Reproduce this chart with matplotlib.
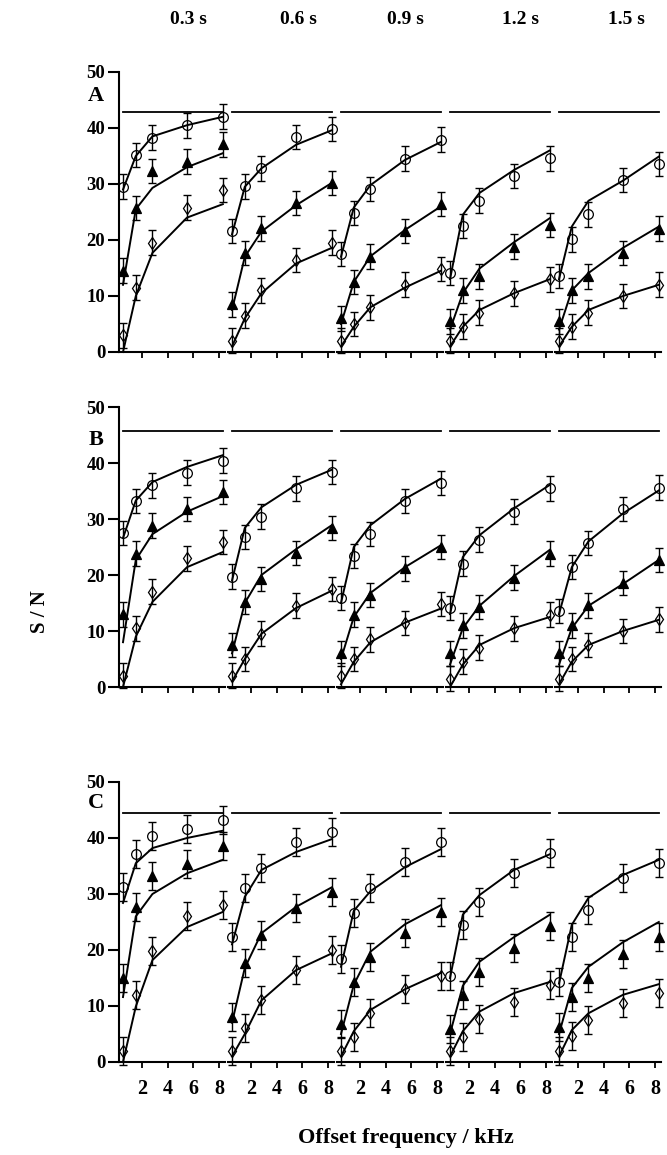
import matplotlib
matplotlib.use("Agg")
import matplotlib.pyplot as plt

plt.rcParams['font.family'] = ['Liberation Serif', 'DejaVu Serif']
plt.rcParams['font.weight'] = 'bold'

# ---------------- data ----------------
X = [0.5, 1.5, 2.8, 5.5, 8.3]            # offset frequency / kHz
TIMES = ["0.3 s", "0.6 s", "0.9 s", "1.2 s", "1.5 s"]
ROWS = ["A", "B", "C"]
REF_LINE = [42.9, 45.7, 44.5]            # horizontal reference level per row
ERR = [2.2, 2.2, 2.5]                    # error bar half-width per row
XTICKS = [2, 4, 6, 8]
YTICKS = [0, 10, 20, 30, 40, 50]

# Row A
A_CIRC = [[29.5, 35.2, 38.3, 40.5, 42.0], [21.6, 29.6, 32.8, 38.4, 39.8], [17.5, 24.8, 29.1, 34.5, 37.9],
          [14.1, 22.5, 27.0, 31.4, 34.6], [13.6, 20.1, 24.6, 30.7, 33.6]]
A_CIRC_FIT = [[29.0, 35.0, 38.5, 40.5, 42.0], [21.0, 29.5, 32.8, 37.0, 39.6], [17.0, 25.8, 29.8, 34.3, 37.5],
              [13.0, 24.5, 28.4, 32.5, 36.0], [13.0, 22.4, 27.0, 30.6, 34.9]]
A_TRI = [[14.5, 25.7, 32.3, 34.0, 37.1], [8.5, 17.7, 22.1, 26.6, 30.2], [6.0, 12.5, 17.0, 21.6, 26.4],
         [5.5, 11.0, 13.5, 18.8, 22.7], [5.5, 11.0, 13.5, 17.7, 22.0]]
A_TRI_FIT = [[12.0, 25.5, 29.3, 33.0, 35.5], [7.5, 17.0, 21.5, 26.2, 30.2], [5.0, 12.5, 17.1, 21.8, 26.0],
             [4.0, 10.5, 14.9, 19.6, 23.9], [4.0, 11.0, 14.1, 18.6, 22.4]]
A_DIA = [[3.0, 11.5, 19.5, 25.8, 28.9], [2.0, 6.5, 11.0, 16.4, 19.5], [2.0, 5.0, 8.0, 12.0, 14.8],
         [2.0, 4.5, 7.0, 10.5, 13.0], [2.0, 4.5, 7.0, 10.0, 12.0]]
A_DIA_FIT = [[0.0, 10.0, 17.7, 24.0, 26.4], [1.0, 6.0, 10.5, 15.8, 18.6], [1.0, 4.5, 8.0, 11.5, 14.5],
             [1.0, 4.5, 7.5, 10.5, 13.0], [1.0, 4.5, 7.5, 10.0, 12.0]]

# Row B
B_CIRC = [[27.5, 33.2, 36.0, 38.3, 40.4], [19.7, 26.8, 30.4, 35.5, 38.4], [15.9, 23.4, 27.3, 33.2, 36.4],
          [14.1, 22.0, 26.3, 31.3, 35.5], [13.6, 21.4, 25.7, 31.8, 35.6]]
B_CIRC_FIT = [[26.6, 33.3, 36.6, 39.3, 41.4], [19.0, 28.4, 32.1, 36.1, 38.8], [15.0, 25.0, 28.9, 33.6, 37.2],
              [13.0, 23.2, 27.1, 31.9, 36.1], [13.0, 21.4, 26.0, 31.0, 35.1]]
B_TRI = [[13.0, 23.8, 28.8, 31.8, 34.8], [7.5, 15.2, 19.3, 23.9, 28.4], [6.0, 12.9, 16.4, 21.2, 25.0],
         [6.0, 11.0, 14.3, 19.5, 23.8], [6.0, 11.0, 14.6, 18.6, 22.7]]
B_TRI_FIT = [[8.0, 22.7, 27.3, 31.3, 34.1], [6.0, 15.0, 20.0, 24.6, 28.9], [5.0, 12.5, 16.8, 21.4, 25.3],
             [4.0, 10.5, 14.5, 19.8, 24.5], [4.0, 10.5, 14.5, 18.4, 22.7]]
B_DIA = [[2.0, 10.5, 17.0, 23.0, 25.9], [2.0, 5.0, 9.5, 14.5, 17.5], [2.0, 5.0, 8.5, 11.4, 14.8],
         [1.5, 4.5, 7.0, 10.5, 12.9], [1.5, 5.0, 7.5, 10.0, 12.1]]
B_DIA_FIT = [[0.0, 9.0, 15.2, 21.4, 24.1], [1.0, 5.0, 9.5, 14.1, 17.2], [0.5, 4.5, 8.0, 11.5, 14.0],
             [0.0, 4.0, 7.5, 10.5, 12.5], [0.5, 4.5, 7.5, 10.0, 12.0]]

# Row C
C_CIRC = [[31.3, 37.1, 40.4, 41.6, 43.2], [22.3, 31.0, 34.6, 39.3, 41.0], [18.4, 26.6, 31.0, 35.7, 39.3],
          [15.4, 24.5, 28.6, 33.8, 37.3], [14.3, 22.3, 27.2, 32.8, 35.6]]
C_CIRC_FIT = [[28.4, 35.5, 38.2, 40.0, 41.3], [21.0, 29.5, 34.3, 37.5, 39.8], [17.0, 27.0, 30.5, 34.8, 38.0],
              [15.0, 26.3, 29.8, 34.3, 37.1], [14.0, 24.5, 29.3, 33.4, 36.1]]
C_TRI = [[15.0, 27.7, 33.2, 35.4, 38.6], [8.0, 17.7, 22.7, 27.5, 30.4], [6.8, 14.3, 18.8, 23.0, 26.8],
         [5.9, 12.0, 16.1, 20.3, 24.3], [6.3, 11.6, 15.0, 19.3, 22.3]]
C_TRI_FIT = [[11.6, 26.0, 30.0, 33.7, 36.1], [7.0, 16.8, 23.0, 27.7, 31.2], [5.0, 13.8, 19.7, 24.6, 28.0],
             [5.0, 13.6, 17.9, 22.3, 26.3], [5.0, 13.2, 17.0, 21.4, 25.0]]
C_DIA = [[2.0, 12.0, 19.8, 26.0, 28.0], [2.0, 6.0, 11.0, 16.4, 20.0], [2.0, 4.5, 8.7, 13.0, 15.4],
         [2.0, 4.5, 7.6, 10.7, 13.8], [2.0, 4.6, 7.5, 10.5, 12.3]]
C_DIA_FIT = [[0.0, 9.9, 18.2, 24.1, 26.8], [1.0, 5.0, 11.0, 16.4, 19.4], [1.0, 5.5, 9.3, 13.0, 15.9],
             [1.0, 5.5, 9.0, 12.3, 14.3], [1.0, 5.7, 8.7, 12.0, 13.9]]

DATA = [
    (A_CIRC, A_CIRC_FIT, A_TRI, A_TRI_FIT, A_DIA, A_DIA_FIT),
    (B_CIRC, B_CIRC_FIT, B_TRI, B_TRI_FIT, B_DIA, B_DIA_FIT),
    (C_CIRC, C_CIRC_FIT, C_TRI, C_TRI_FIT, C_DIA, C_DIA_FIT),
]

# ---------------- layout ----------------
W, H = 667, 1155
fig = plt.figure(figsize=(W / 100, H / 100), dpi=100)

PX_PER_KHZ = 12.8
X0_PX = [116.6 + 109 * c for c in range(5)]   # pixel position of x = 0 in each column
ROW_TOP = [72, 407, 782]
ROW_H = 280
XLIM = (0.2, 8.45)

FONT = dict(family=['Liberation Serif', 'DejaVu Serif'], weight='bold')

for r in range(3):
    circ, circf, tri, trif, dia, diaf = DATA[r]
    for c in range(5):
        left_px = X0_PX[c] + XLIM[0] * PX_PER_KHZ
        width_px = (XLIM[1] - XLIM[0]) * PX_PER_KHZ
        ax = fig.add_axes([left_px / W, 1 - (ROW_TOP[r] + ROW_H) / H, width_px / W, ROW_H / H])
        ax.set_xlim(*XLIM)
        ax.set_ylim(0, 50)
        ax.patch.set_alpha(0)
        for s in ['top', 'right']:
            ax.spines[s].set_visible(False)
        ax.spines['bottom'].set_linewidth(1.5)
        ax.spines['left'].set_linewidth(1.5)
        if c != 0:
            ax.spines['left'].set_visible(False)
            ax.set_yticks([])
        else:
            ax.set_yticks(YTICKS)
            ax.set_yticklabels([str(t) for t in YTICKS], fontsize=13.5, **FONT)
            ax.tick_params(axis='y', direction='out', length=8, width=1.5, pad=2)
        ax.set_xticks(XTICKS)
        ax.tick_params(axis='x', direction='out', length=4, width=1.3, pad=8)
        if r == 2:
            ax.set_xticklabels([str(t) for t in XTICKS], fontsize=14.5, **FONT)
        else:
            ax.set_xticklabels([])

        # reference line
        ax.plot([X[0], X[-1]], [REF_LINE[r]] * 2, color='k', lw=1.3, clip_on=False)

        for vals, fit, marker, mfc, ms in [
            (circ[c], circf[c], 'o', 'none', 7),
            (tri[c], trif[c], '^', 'k', 6.5),
            (dia[c], diaf[c], 'd', 'none', 6.5),
        ]:
            ax.plot(X, fit, color='k', lw=1.4, clip_on=False, zorder=2)
            ax.errorbar(X, vals, yerr=ERR[r], fmt='none', ecolor='k', elinewidth=1.0,
                        capsize=3.2, capthick=1.0, clip_on=False, zorder=3)
            ax.plot(X, vals, ls='none', marker=marker, mfc=mfc, mec='k', mew=0.9, ms=ms,
                    clip_on=False, zorder=4)

LETTER_Y = [96, 440, 803]
for r in range(3):
    fig.text(96 / W, 1 - LETTER_Y[r] / H, ROWS[r], fontsize=16, ha='center', va='center', **FONT)

TITLE_X = [188, 298, 405, 520, 626]
for c in range(5):
    fig.text(TITLE_X[c] / W, 1 - 20 / H, TIMES[c], fontsize=14, ha='center', va='center', **FONT)

fig.text(40 / W, 1 - 612 / H, "S / N", fontsize=15, rotation=90, ha='center', va='center', **FONT)
fig.text(406 / W, 1 - 1138 / H, "Offset frequency / kHz", fontsize=16, ha='center', va='center', **FONT)

fig.savefig("out.png", dpi=100)
